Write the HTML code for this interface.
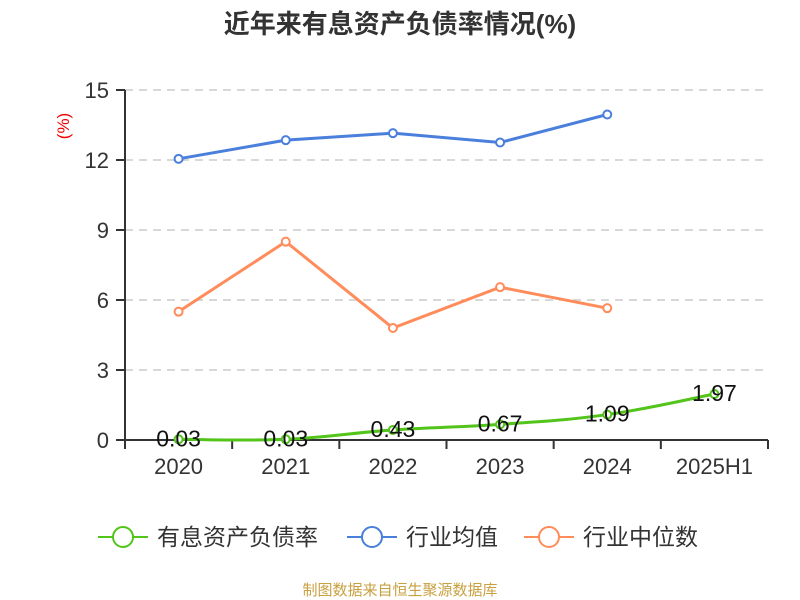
<!DOCTYPE html>
<html><head><meta charset="utf-8"><style>
body{margin:0;background:#fff;}
svg{display:block;font-family:"Liberation Sans","Noto Sans CJK SC",sans-serif;}
</style></head><body>
<svg id="chart" width="800" height="600">
<text x="400" y="33" text-anchor="middle" font-size="26" font-weight="bold" fill="#333">近年来有息资产负债率情况(%)</text>
<text transform="translate(69,126) rotate(-90)" text-anchor="middle" font-size="17" fill="#e00">(%)</text>
<g id="grid"></g><g id="axes"></g><g id="series"></g>
<g>
<g><line x1="98" y1="537" x2="148" y2="537" stroke="#52c41a" stroke-width="2"/><circle cx="123" cy="537" r="10" fill="#fff" stroke="#52c41a" stroke-width="2"/><text x="157" y="545" font-size="23" fill="#333">有息资产负债率</text></g>
<g><line x1="347" y1="537" x2="397" y2="537" stroke="#4a7fdc" stroke-width="2"/><circle cx="372" cy="537" r="10" fill="#fff" stroke="#4a7fdc" stroke-width="2"/><text x="406" y="545" font-size="23" fill="#333">行业均值</text></g>
<g><line x1="524" y1="537" x2="574" y2="537" stroke="#ff8c5a" stroke-width="2"/><circle cx="549" cy="537" r="10" fill="#fff" stroke="#ff8c5a" stroke-width="2"/><text x="583" y="545" font-size="23" fill="#333">行业中位数</text></g>
</g>
<text x="400" y="595" text-anchor="middle" font-size="15" fill="#c8a040">制图数据来自恒生聚源数据库</text>
</svg>
<script>
const categories=["2020","2021","2022","2023","2024","2025H1"];
const debtRatio=[0.03,0.03,0.43,0.67,1.09,1.97];
const industryAvg=[12.05,12.85,13.15,12.75,13.95];
const industryMedian=[5.5,8.5,4.8,6.55,5.65];
const yTicks=[0,3,6,9,12,15];
const NS="http://www.w3.org/2000/svg";
const L=125,R=768,T=90,B=440,yMax=15;
const bw=(R-L)/categories.length;
const xs=i=>L+bw*(i+0.5);
const ys=v=>B-(v/yMax)*(B-T);
function mk(tag,attrs,parent){const e=document.createElementNS(NS,tag);for(const k in attrs)e.setAttribute(k,attrs[k]);parent.appendChild(e);return e;}
const grid=document.getElementById('grid'),axes=document.getElementById('axes'),ser=document.getElementById('series');
yTicks.forEach(t=>{
  if(t>0){const g=mk('line',{x1:L,x2:R,y1:ys(t),y2:ys(t),stroke:'#ccc','stroke-dasharray':'8,6','stroke-width':1.5},grid);
  
  }
  mk('line',{x1:L-9,x2:L,y1:ys(t),y2:ys(t),stroke:'#333','stroke-width':2},axes);
  const tx=mk('text',{x:L-16,y:ys(t)+8,'text-anchor':'end','font-size':22,fill:'#333'},axes);
  tx.textContent=t;
  
  
});
mk('line',{x1:L,x2:L,y1:T,y2:B,stroke:'#333','stroke-width':2},axes);
mk('line',{x1:L,x2:R,y1:B,y2:B,stroke:'#333','stroke-width':2},axes);
for(let i=0;i<=categories.length;i++)mk('line',{x1:L+bw*i,x2:L+bw*i,y1:B,y2:B+9,stroke:'#333','stroke-width':2},axes);
categories.forEach((c,i)=>{const tx=mk('text',{x:xs(i),y:B+34,'text-anchor':'middle','font-size':22,fill:'#333'},axes);
tx.textContent=c;

});
function pathD(vals,smooth){
  const p=vals.map((v,i)=>[xs(i),ys(v)]);
  if(!smooth)return 'M'+p.map(q=>q.join(',')).join(' L');
  let d='M'+p[0].join(',');
  for(let i=0;i<p.length-1;i++){
    const p0=p[i-1]||p[i],p1=p[i],p2=p[i+1],p3=p[i+2]||p2,k=0.2;
    d+=' C'+(p1[0]+(p2[0]-p0[0])*k)+','+(p1[1]+(p2[1]-p0[1])*k)+' '+(p2[0]-(p3[0]-p1[0])*k)+','+(p2[1]-(p3[1]-p1[1])*k)+' '+p2[0]+','+p2[1];
  }
  return d;
}
function line(vals,color,name,labels,smooth){
  const g=mk('g',{},ser);
  
  
  mk('path',{d:pathD(vals,smooth),fill:'none',stroke:color,'stroke-width':3},g);
  vals.forEach((v,i)=>{const c=mk('circle',{cx:xs(i),cy:ys(v),r:4,fill:'#fff',stroke:color,'stroke-width':2},g);
  
  
  if(labels){const t=mk('text',{x:xs(i),y:ys(v)+7,'text-anchor':'middle','font-size':23,fill:'#111'},g);t.textContent=v.toFixed(2);
  
  }});
}
line(industryAvg,'#4a7fdc','industry-avg-line',false,false);
line(industryMedian,'#ff8c5a','industry-median-line',false,false);
line(debtRatio,'#52c41a','debt-ratio-line',true,true);
</script>
</body></html>
